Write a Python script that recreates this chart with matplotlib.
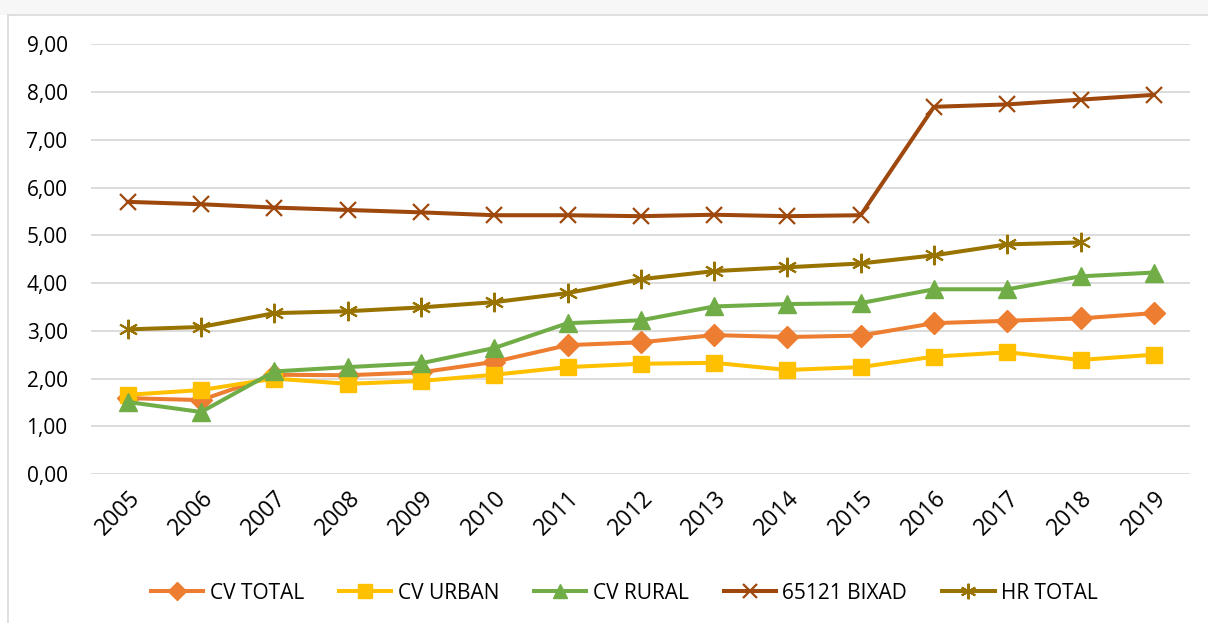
import numpy as np
import matplotlib
matplotlib.use('Agg')
import matplotlib.pyplot as plt
from matplotlib.patches import Rectangle

plt.rcParams['font.family'] = ['Open Sans', 'DejaVu Sans']

years = ['2005', '2006', '2007', '2008', '2009', '2010', '2011', '2012',
         '2013', '2014', '2015', '2016', '2017', '2018', '2019']

cv_total = [1.59, 1.55, 2.08, 2.07, 2.13, 2.35, 2.70, 2.76, 2.91, 2.87, 2.90, 3.16, 3.21, 3.26, 3.37]
cv_urban = [1.66, 1.76, 2.00, 1.89, 1.95, 2.08, 2.24, 2.31, 2.33, 2.18, 2.24, 2.46, 2.55, 2.39, 2.50]
cv_rural = [1.51, 1.30, 2.15, 2.24, 2.32, 2.64, 3.16, 3.22, 3.51, 3.56, 3.58, 3.87, 3.87, 4.14, 4.22]
bixad = [5.70, 5.65, 5.58, 5.53, 5.48, 5.42, 5.42, 5.40, 5.43, 5.40, 5.42, 7.69, 7.74, 7.84, 7.94]
hr_total = [3.03, 3.08, 3.37, 3.41, 3.49, 3.60, 3.79, 4.08, 4.25, 4.33, 4.41, 4.58, 4.81, 4.85, np.nan]

fig = plt.figure(figsize=(12.08, 6.23), dpi=100)
# light band on top and thin chart border, like the spreadsheet export
fig.patches.append(Rectangle((0, 0.976), 1, 0.024, transform=fig.transFigure,
                             facecolor='#f7f7f7', edgecolor='none', zorder=0))
fig.patches.append(Rectangle((0.007, -0.01), 1.0, 0.986, transform=fig.transFigure,
                             facecolor='none', edgecolor='#d9d9d9', lw=1.2, zorder=0))

ax = fig.add_axes([0.0755, 0.239, 0.910, 0.690])
x = np.arange(len(years))

lw = 2.9
ax.plot(x, cv_total, color='#ED7D31', lw=lw, marker='D', ms=11, label='CV TOTAL')
ax.plot(x, cv_urban, color='#FFC000', lw=lw, marker='s', ms=12, label='CV URBAN')
ax.plot(x, cv_rural, color='#70AD47', lw=lw, marker='^', ms=13, label='CV RURAL')
ax.plot(x, bixad, color='#9E480E', lw=lw, marker='x', ms=12, mew=1.6, label='65121 BIXAD')
ax.plot(x, hr_total, color='#997300', lw=lw, marker=(6, 2, 0), ms=14, mew=1.5, label='HR TOTAL')

ax.set_xlim(-0.5, len(years) - 0.5)
ax.set_ylim(0, 9)
ax.set_yticks(np.arange(0, 10, 1))
ax.set_yticklabels(['%d,00' % v for v in range(10)])
ax.set_xticks(x)
ax.set_xticklabels(years, rotation=45, ha='right', rotation_mode='anchor')
ax.tick_params(axis='both', length=0, colors='#000000')
ax.tick_params(axis='y', pad=17, labelsize=15)
ax.tick_params(axis='x', pad=9, labelsize=16.5)
ax.grid(axis='y', color='#d9d9d9', lw=1.3)
ax.set_axisbelow(True)
for s in ax.spines.values():
    s.set_visible(False)

ax.legend(loc='center', bbox_to_anchor=(0.485, -0.277), ncol=5, frameon=False,
          fontsize=15, handlelength=2.5, columnspacing=1.7, handletextpad=0.3,
          markerscale=0.8)

fig.savefig('out.png', dpi=100)
